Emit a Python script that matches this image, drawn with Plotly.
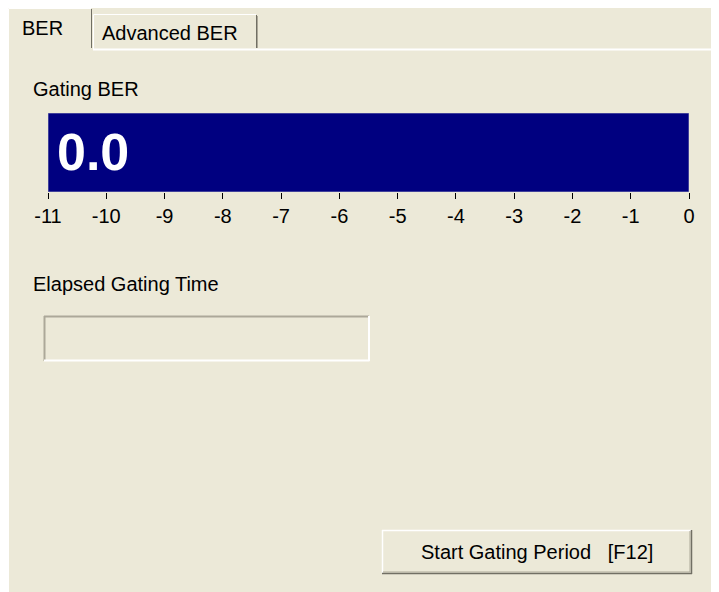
import plotly.graph_objects as go

# ---- data ----
ber_value = [0.0]          # current gating BER (log10)
axis_min = -11
axis_max = 0
tick_vals = list(range(-11, 1))
tick_text = [str(v) for v in tick_vals]

# the page body adds an 8px margin; lay the figure out in screen pixels minus it
OFF = 8
W, H = 719 - OFF, 592 - OFF
FONT = "Liberation Sans, Arial, sans-serif"
BEIGE = "#ECE9D8"
DARK = "#716F64"
MID = "#ACA899"


def px(x):
    return (x - OFF) / W


def py(y):
    return 1 - (y - OFF) / H


fig = go.Figure()
fig.add_trace(go.Bar(
    y=[0], x=[v - axis_min for v in ber_value], base=[axis_min],
    orientation="h", width=1,
    marker=dict(color="#000080", line=dict(color="#8080b4", width=1)),
    hoverinfo="skip", showlegend=False,
))

shapes = []


def rect(x0, y0, x1, y1, fill, line=None, lw=0):
    shapes.append(dict(type="rect", xref="paper", yref="paper",
                       x0=px(x0), x1=px(x1), y0=py(y0), y1=py(y1),
                       fillcolor=fill, line=dict(width=lw, color=line or fill),
                       layer="below"))


def line(x0, y0, x1, y1, color, w=1):
    shapes.append(dict(type="line", xref="paper", yref="paper",
                       x0=px(x0), x1=px(x1), y0=py(y0), y1=py(y1),
                       line=dict(color=color, width=w), layer="below"))


# panel
rect(7, 7, 730, 600, BEIGE)
# active tab "BER"
line(8.5, 8.5, 91, 8.5, "white")
line(8.5, 8.5, 8.5, 600, "white")
line(91.5, 9, 91.5, 48, DARK)
# inactive tab "Advanced BER"
line(93.5, 14.5, 256, 14.5, "white")
line(93.5, 14.5, 93.5, 49, "white")
line(256.5, 15, 256.5, 48, DARK)
line(257.5, 16, 257.5, 48, MID)
# line under tabs
line(93, 49.5, 730, 49.5, "white", 2)

# elapsed time box (sunken)
line(44, 316.5, 369, 316.5, MID, 2)
line(44.5, 316, 44.5, 361, MID, 2)
line(44, 360.5, 369.5, 360.5, "white", 2)
line(369, 316, 369, 361, "white", 2)

# button (raised)
rect(382, 530, 692, 574, BEIGE)
line(382, 530.5, 691, 530.5, "white", 1.5)
line(382.5, 530, 382.5, 573, "white", 1.5)
line(382, 573.5, 692, 573.5, DARK, 1.5)
line(691.5, 530, 691.5, 574, DARK, 1.5)
line(383, 572, 690, 572, MID, 1)
line(690, 531, 690, 572, MID, 1)

annotations = []


def label(text, x, y, size=20, anchor="left", color="black"):
    annotations.append(dict(text=text, x=px(x), y=py(y), xref="paper", yref="paper",
                            xanchor=anchor, yanchor="middle", showarrow=False,
                            font=dict(family=FONT, size=size, color=color)))


label("BER", 20, 28)
label("Advanced BER", 100, 33)
label("Gating BER", 31, 89)
label("Elapsed Gating Time", 31, 284)
label("Start Gating Period\u00a0\u00a0\u00a0[F12]", 537, 552, anchor="center")

# value text inside the bar
annotations.append(dict(text=f"<b>{ber_value[0]:.1f}</b>", x=axis_min, y=0,
                        xref="x", yref="y", xanchor="left", yanchor="middle",
                        xshift=7, yshift=1, showarrow=False,
                        font=dict(family=FONT, size=52, color="white")))

fig.update_layout(
    width=W, height=H, autosize=False,
    margin=dict(l=0, r=0, t=0, b=0, pad=0, autoexpand=False),
    paper_bgcolor="white", plot_bgcolor="rgba(0,0,0,0)",
    shapes=shapes, annotations=annotations,
    xaxis=dict(domain=[px(48), px(689)], range=[axis_min, axis_max],
               tickvals=tick_vals, ticktext=tick_text,
               ticks="outside", ticklen=6, tickcolor="black", tickwidth=1,
               showgrid=False, zeroline=False, showline=False,
               automargin=False,
               tickfont=dict(family=FONT, size=20, color="black"),
               fixedrange=True),
    yaxis=dict(domain=[py(192), py(113)], range=[-0.5, 0.5],
               visible=False, automargin=False, fixedrange=True),
    showlegend=False,
)

fig.write_html("out.html", config={"displayModeBar": False})
